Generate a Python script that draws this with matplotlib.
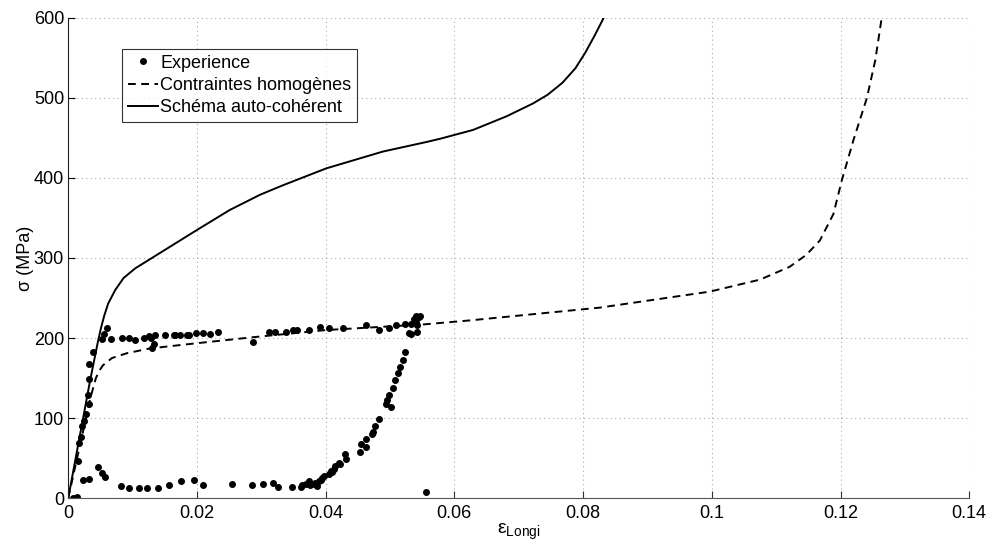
import numpy as np
import matplotlib
matplotlib.use("Agg")
import matplotlib.pyplot as plt

plt.rcParams['font.family'] = ['Liberation Sans', 'DejaVu Sans']
plt.rcParams['mathtext.fontset'] = 'custom'
plt.rcParams['mathtext.rm'] = 'Liberation Sans'
plt.rcParams['mathtext.it'] = 'Liberation Sans'

# experimental points (strain, stress in MPa)
exp_x = [0.0008, 0.0013, 0.0015, 0.0017, 0.0020, 0.0022, 0.0025, 0.0028, 0.0032, 0.0031,
         0.0033, 0.0033, 0.0039, 0.0052, 0.0055, 0.0060, 0.0066,
         0.0084, 0.0094, 0.0104, 0.0117, 0.0125, 0.0128, 0.0135, 0.0134, 0.0130, 0.0151,
         0.0164, 0.0166, 0.0174, 0.0185, 0.0187, 0.0198, 0.0210, 0.0221, 0.0233, 0.0287,
         0.0312, 0.0322, 0.0339, 0.0350, 0.0356, 0.0374, 0.0391, 0.0405, 0.0427, 0.0463,
         0.0483, 0.0499, 0.0510, 0.0524, 0.0532, 0.0537, 0.0540, 0.0542, 0.0545, 0.0547,
         0.0540, 0.0529, 0.0532, 0.0542,
         0.0023, 0.0032, 0.0047, 0.0052, 0.0057, 0.0082, 0.0094, 0.0110, 0.0123, 0.0140,
         0.0156, 0.0175, 0.0196, 0.0210, 0.0254, 0.0285, 0.0302, 0.0318, 0.0326, 0.0348,
         0.0361, 0.0364, 0.0369, 0.0374, 0.0376, 0.0382, 0.0384, 0.0387, 0.0389, 0.0392,
         0.0395, 0.0397, 0.0405, 0.0408, 0.0410, 0.0413, 0.0415, 0.0420, 0.0423, 0.0430,
         0.0432, 0.0453, 0.0455, 0.0462, 0.0462, 0.0472, 0.0474, 0.0476, 0.0483, 0.0493,
         0.0495, 0.0498, 0.0501, 0.0505, 0.0508, 0.0512, 0.0515, 0.0520, 0.0524, 0.0556]
exp_y = [0.4, 1.3, 46, 69, 76, 90, 96, 105, 117, 129,
         149, 168, 182, 199, 205, 213, 199,
         200, 200, 198, 200, 202, 200, 204, 193, 188, 204,
         204, 204, 204, 204, 204, 206, 206, 205, 207, 195,
         208, 208, 207, 210, 210, 210, 214, 213, 213, 216,
         210, 213, 216, 218, 218, 224, 220, 216, 226, 227,
         228, 206, 205, 208,
         23, 24, 39, 31, 26, 15, 13, 12, 12, 13,
         16, 21, 22, 16, 17, 16, 18, 19, 14, 14,
         14, 16, 17, 21, 16, 18, 19, 15, 21, 23,
         25, 28, 30, 34, 32, 36, 40, 44, 42, 55,
         49, 58, 67, 64, 74, 80, 83, 90, 99, 117,
         122, 129, 114, 137, 147, 156, 164, 172, 182, 8]

# homogeneous stress model (dashed)
hom_x = [0, 0.0029, 0.0034, 0.0043, 0.0049, 0.0054, 0.0068, 0.0091, 0.0127, 0.0194,
         0.0287, 0.0401, 0.0552, 0.0624, 0.0826, 0.0997, 0.1075, 0.1121, 0.1147, 0.1168,
         0.1189, 0.1202, 0.1220, 0.1241, 0.1254, 0.1264]
hom_y = [0, 105, 124, 150, 160, 166, 175, 181, 187, 193,
         201, 210, 217, 222, 238, 258, 273, 289, 304, 322,
         355, 397, 447, 500, 547, 600]

# self-consistent scheme (solid)
ac_x = [0, 0.0034, 0.0041, 0.0046, 0.0051, 0.0056, 0.0062, 0.0073, 0.0086, 0.0104,
        0.0130, 0.0158, 0.0200, 0.0251, 0.0298, 0.0334, 0.0401, 0.0489, 0.0557, 0.0578,
        0.0629, 0.0681, 0.0722, 0.0745, 0.0768, 0.0788, 0.0803, 0.0818, 0.0832]
ac_y = [0, 147, 175, 195, 213, 228, 243, 260, 275, 287,
        300, 314, 335, 360, 379, 391, 412, 433, 445, 449,
        460, 477, 493, 504, 519, 537, 556, 578, 600]

fig = plt.figure(figsize=(9.89, 5.42), dpi=100)
ax = fig.add_axes([0.069, 0.081, 0.911, 0.886])

ax.plot(exp_x, exp_y, 'k.', markersize=8, linestyle='none', label='Experience')
ax.plot(hom_x, hom_y, 'k--', lw=1.4, dashes=(4, 2.8), label='Contraintes homogènes')
ax.plot(ac_x, ac_y, 'k-', lw=1.4, label='Schéma auto-cohérent')

ax.set_xlim(0, 0.14)
ax.set_ylim(0, 600)
ax.set_xticks(np.arange(0, 0.141, 0.02))
ax.set_xticklabels(['0', '0.02', '0.04', '0.06', '0.08', '0.1', '0.12', '0.14'])
ax.set_yticks(np.arange(0, 601, 100))
ax.grid(True, linestyle=(0, (1, 3)), color='#aaaaaa', lw=0.8)
ax.set_axisbelow(True)

for s in ['top', 'right']:
    ax.spines[s].set_visible(False)
ax.spines['left'].set_color('#222222')
ax.spines['bottom'].set_color('#555555')
ax.tick_params(direction='in', length=5, labelsize=13, colors='black')
ax.tick_params(axis='x', pad=5, color='#333333')
ax.tick_params(axis='y', pad=3)

ax.set_xlabel(r'ε$_{\mathrm{Longi}}$', fontsize=14, labelpad=0)
ax.set_ylabel('σ (MPa)', fontsize=13, labelpad=0)

leg = ax.legend(loc='upper left', bbox_to_anchor=(0.060, 0.935), borderaxespad=0,
                fontsize=13, frameon=True, fancybox=False, handlelength=1.7,
                handletextpad=0.1, labelspacing=0.3, borderpad=0.3)
leg.get_frame().set_edgecolor('black')
leg.get_frame().set_linewidth(0.8)

fig.savefig('out.png', dpi=100)
